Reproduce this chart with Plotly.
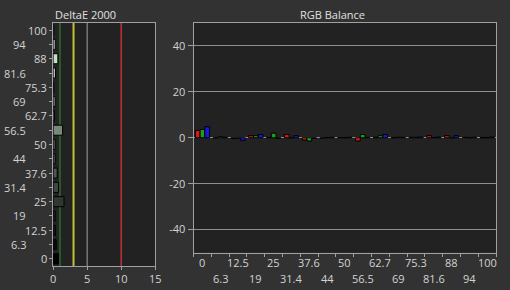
import plotly.graph_objects as go

# ---------------- data ----------------
levels = ["0", "6.3", "12.5", "19", "25", "31.4", "37.6", "44", "50",
          "56.5", "62.7", "69", "75.3", "81.6", "88", "94", "100"]
delta_e = [0.8, 0.45, 0.35, 0.3, 1.6, 0.8, 0.6, 0.3, 0.3,
           1.4, 0.2, 0.3, 0.1, 0.35, 0.7, 0.3, 0.1]
red_dev = [3.2, -0.1, -0.3, 0.9, 0.2, 1.4, -1.0, -0.2, 0.1,
           -1.4, 0.2, 0.1, 0.2, 0.9, 0.9, 0.2, 0.1]
green_dev = [3.6, 0.5, -0.2, 0.9, 2.0, 0.0, -1.4, 0.1, 0.1,
             1.4, 0.9, 0.2, 0.2, 0.1, 0.0, 0.1, 0.1]
blue_dev = [4.8, 0.2, -1.1, 1.4, -0.2, 0.9, -0.3, 0.2, 0.2,
            0.2, 1.4, 0.2, 0.3, 0.3, 0.9, 0.2, 0.3]
de_ticks = [0, 5, 10, 15]
rgb_ticks = [-40, -20, 0, 20, 40]
rgb_ticktext = ["-40", "-20", "0", "20", "40"]
ref_lines = [1, 3, 5, 10]
ref_colors = ["#2a5c2a", "#c0c03a", "#a0a0a0", "#c03434"]
ref_widths = [2, 2, 1, 1.5]

# ---------------- style ----------------
PAPER = "#323232"
PLOT = "#222222"
LINE = "#a0a0a0"
TXT = "#d2d2d2"
FONT = "Open Sans"
W, H = 510, 290


def gray_fill(v):
    g = 255 * (float(v) / 100) ** 1.1
    return "rgb(%d,%d,%d)" % (g * 0.9, g, g * 0.9)


fills = [gray_fill(v) for v in levels]

fig = go.Figure()
fig.add_trace(go.Bar(
    x=delta_e, y=list(range(len(levels))), orientation="h",
    xaxis="x", yaxis="y", width=0.7,
    marker=dict(color=fills, line=dict(color="black", width=1)),
    showlegend=False, hoverinfo="skip"))

for vals, col in [(red_dev, "#d81818"), (green_dev, "#18a018"), (blue_dev, "#1818e0")]:
    fig.add_trace(go.Bar(
        x=list(range(len(levels))), y=vals, xaxis="x2", yaxis="y2",
        marker=dict(color=col, line=dict(color="black", width=1)),
        showlegend=False, hoverinfo="skip"))

# plot boxes in pixels
L1, R1, T1, B1 = 51, 155, 23, 266
L2, R2, T2, B2 = 194, 502, 23, 252.5

axis_common = dict(showline=True, mirror=True, linecolor=LINE, linewidth=1,
                   ticks="outside", tickcolor=LINE, tickwidth=1,
                   zeroline=False,
                   tickfont=dict(family=FONT, size=11, color=TXT))

fig.update_layout(
    width=W, height=H,
    margin=dict(l=0, r=0, t=0, b=0),
    paper_bgcolor=PAPER, plot_bgcolor=PLOT,
    barmode="group", bargap=0.2, bargroupgap=0,
    font=dict(family=FONT, size=11, color=TXT),
    xaxis=dict(domain=[L1 / W, R1 / W], range=[0, 15], tickvals=de_ticks,
               ticklen=3, showgrid=False, anchor="y", **axis_common),
    yaxis=dict(domain=[1 - B1 / H, 1 - T1 / H], range=[-0.5, len(levels) - 0.5],
               tickvals=list(range(len(levels))), showticklabels=False,
               ticklen=3, showgrid=False, anchor="x", **axis_common),
    xaxis2=dict(domain=[L2 / W, min(R2 / W, 1.0)], type="linear",
                range=[-0.5, len(levels) - 0.5],
                tickvals=[i - 0.5 for i in range(len(levels) + 1)],
                showticklabels=False, ticklen=3, showgrid=False, anchor="y2",
                **axis_common),
    yaxis2=dict(domain=[1 - B2 / H, 1 - T2 / H], range=[-50, 50],
                tickvals=rgb_ticks, ticktext=rgb_ticktext, ticklen=5,
                showgrid=True, gridcolor="#8e8e8e", gridwidth=1, anchor="x2",
                **axis_common),
)

# reference lines on DeltaE chart
for xv, c, w in zip(ref_lines, ref_colors, ref_widths):
    fig.add_shape(type="line", xref="x", yref="y domain", x0=xv, x1=xv, y0=0, y1=1,
                  line=dict(color=c, width=w), layer="below")

ann = []
# left category labels (alternating columns)
for i, lab in enumerate(levels):
    ann.append(dict(xref="paper", yref="y", x=(47 if i % 2 == 0 else 25) / W, y=i,
                    text=lab, showarrow=False, xanchor="right", yanchor="middle",
                    font=dict(family=FONT, size=11, color=TXT)))
# bottom category labels on RGB chart (alternating rows)
for i, lab in enumerate(levels):
    ann.append(dict(xref="x2", yref="paper", x=i,
                    y=1 - (262 if i % 2 == 0 else 278) / H,
                    text=lab, showarrow=False, xanchor="center", yanchor="middle",
                    font=dict(family=FONT, size=11, color=TXT)))
# titles
ann.append(dict(xref="paper", yref="paper", x=L1 / W, y=1 - 15 / H, text="DeltaE 2000",
                showarrow=False, xanchor="left", yanchor="middle",
                font=dict(family=FONT, size=11, color="#e0e0e0")))
ann.append(dict(xref="paper", yref="paper", x=335 / W, y=1 - 15 / H, text="RGB Balance",
                showarrow=False, xanchor="center", yanchor="middle",
                font=dict(family=FONT, size=11, color="#e0e0e0")))
fig.update_layout(annotations=ann)

fig.write_html("out.html")
